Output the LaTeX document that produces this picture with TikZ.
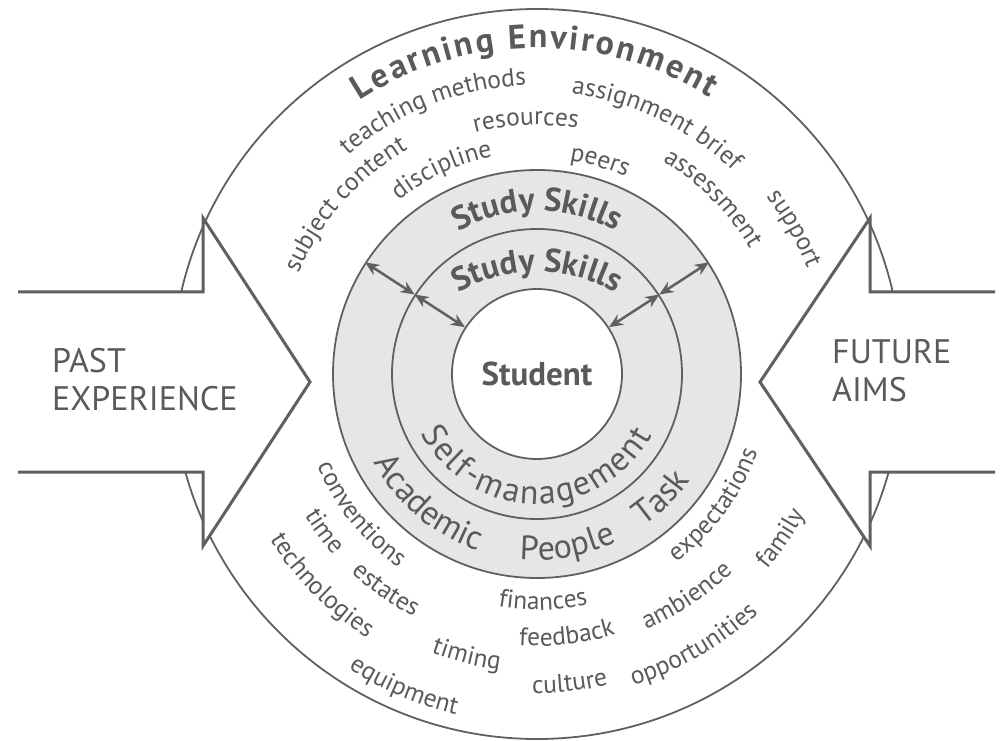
\documentclass[tikz,border=0pt]{standalone}
\usepackage{fontspec}
\setmainfont{PT Sans}
\usetikzlibrary{arrows.meta, decorations.text}

\definecolor{ink}{HTML}{5A5A5A}
\definecolor{linegray}{HTML}{606060}
\definecolor{ringfill}{HTML}{E6E6E8}

\newcommand{\wordfont}{\fontsize{25.5}{30}\selectfont}
\newcommand{\ringfont}{\fontsize{34}{40}\selectfont}
\newcommand{\headfont}{\bfseries\fontsize{34}{40}\selectfont}
\newcommand{\skillfont}{\bfseries\fontsize{33}{40}\selectfont}

\begin{document}
\begin{tikzpicture}[
    x=1pt, y=1pt,
    ring/.style={circle, draw=linegray, line width=1.8pt, inner sep=0pt},
    blockarrow/.style={draw=linegray, line width=3pt, fill=white, line join=miter},
    twoway/.style={draw=linegray, line width=2.5pt, {Stealth[length=14pt,width=12pt]}-{Stealth[length=14pt,width=12pt]}},
    sidetext/.style={font=\fontsize{34}{38}\selectfont, text=ink, align=left, inner sep=0pt, anchor=west},
    smallword/.style={decorate, decoration={text along path, text align=center, text color=ink, text={|\wordfont|#1}}},
    ringword/.style={decorate, decoration={text along path, text align=center, text color=ink, text={|\ringfont|#1}}},
    skillword/.style={decorate, decoration={text along path, text align=center, text color=ink, text={|\skillfont|#1}}},
    fitword/.style={decorate, decoration={text along path, text align={fit to path}, text color=ink, text={|\ringfont|#1}}},
    fittitle/.style={decorate, decoration={text along path, text align={fit to path}, text color=ink, text={|\headfont|#1}}}
]

\useasboundingbox (0,0) rectangle (1001,740);
\fill[white] (0,0) rectangle (1001,740);

\coordinate (centre) at (537,366);
\coordinate (upper) at (537,306);

% Learning environment
\node[ring, minimum size=730pt] (env) at (centre) {};

% Past and future
\path[blockarrow] (18,448) -- (203,448) -- (203,522) -- (310,358) -- (203,194) -- (203,268) -- (18,268);
\path[blockarrow] (995,448) -- (870,448) -- (870,522) -- (760,358) -- (870,194) -- (870,268) -- (995,268);
\node[sidetext] (past) at (52,360) {PAST\\EXPERIENCE};
\node[sidetext] (future) at (832,369) {FUTURE\\AIMS};

% Study skills rings
\node[ring, fill=ringfill, minimum size=408pt] (outer) at (centre) {};
\node[ring, minimum size=290pt] (middle) at (centre) {};
\node[ring, fill=white, minimum size=170pt, font=\bfseries\fontsize{33}{40}\selectfont, text=ink] (core) at (centre) {Student};

\draw[twoway] (outer.147) -- (middle.147);
\draw[twoway] (middle.147) -- (core.147);
\draw[twoway] (outer.33) -- (middle.33);
\draw[twoway] (middle.33) -- (core.33);

% Ring labels
\path[fittitle={Learning Environment}] (centre) ++(123:326) arc[start angle=123, end angle=58, radius=326];
\path[skillword={Study Skills}] (centre) ++(150:163) arc[start angle=150, end angle=30, radius=163];
\path[skillword={Study Skills}] (upper) ++(150:162) arc[start angle=150, end angle=30, radius=162];
\path[fitword={Self-management}] (centre) ++(207:130) arc[start angle=207, end angle=332, radius=130];
\path[ringword={Academic}] (centre) ++(170:186) arc[start angle=170, end angle=290, radius=186];
\path[ringword={People}] (centre) ++(220:186) arc[start angle=220, end angle=340, radius=186];
\path[ringword={Task}] (centre) ++(255:186) arc[start angle=255, end angle=375, radius=186];

% Environment, upper half
\path[smallword={teaching methods}] (centre) ++(156.5:289) arc[start angle=156.5, end angle=66.5, radius=289];
\path[smallword={resources}] (centre) ++(137.5:249) arc[start angle=137.5, end angle=47.5, radius=249];
\path[smallword={assignment brief}] (centre) ++(109.5:282) arc[start angle=109.5, end angle=19.5, radius=282];
\path[smallword={subject content}] (centre) ++(183.5:259) arc[start angle=183.5, end angle=93.5, radius=259];
\path[smallword={discipline}] (centre) ++(160:222) arc[start angle=160, end angle=70, radius=222];
\path[smallword={peers}] (centre) ++(118.5:216) arc[start angle=118.5, end angle=28.5, radius=216];
\path[smallword={assessment}] (centre) ++(90:247) arc[start angle=90, end angle=0, radius=247];
\path[smallword={support}] (centre) ++(74.5:290) arc[start angle=74.5, end angle=-15.5, radius=290];

% Environment, lower half
\path[smallword={conventions}] (centre) ++(173.5:238) arc[start angle=173.5, end angle=263.5, radius=238];
\path[smallword={time}] (centre) ++(171.5:272) arc[start angle=171.5, end angle=261.5, radius=272];
\path[smallword={estates}] (centre) ++(190:272) arc[start angle=190, end angle=280, radius=272];
\path[smallword={technologies}] (centre) ++(179.5:314) arc[start angle=179.5, end angle=269.5, radius=314];
\path[smallword={equipment}] (centre) ++(202:350) arc[start angle=202, end angle=292, radius=350];
\path[smallword={timing}] (centre) ++(211:298) arc[start angle=211, end angle=301, radius=298];
\path[smallword={finances}] (centre) ++(226.5:236) arc[start angle=226.5, end angle=316.5, radius=236];
\path[smallword={feedback}] (centre) ++(231.5:272) arc[start angle=231.5, end angle=321.5, radius=272];
\path[smallword={culture}] (centre) ++(231:319) arc[start angle=231, end angle=321, radius=319];
\path[smallword={opportunities}] (centre) ++(255:326) arc[start angle=255, end angle=345, radius=326];
\path[smallword={ambience}] (centre) ++(259:278) arc[start angle=259, end angle=349, radius=278];
\path[smallword={expectations}] (centre) ++(278.5:234) arc[start angle=278.5, end angle=368.5, radius=234];
\path[smallword={family}] (centre) ++(281:302) arc[start angle=281, end angle=371, radius=302];

\end{tikzpicture}
\end{document}
